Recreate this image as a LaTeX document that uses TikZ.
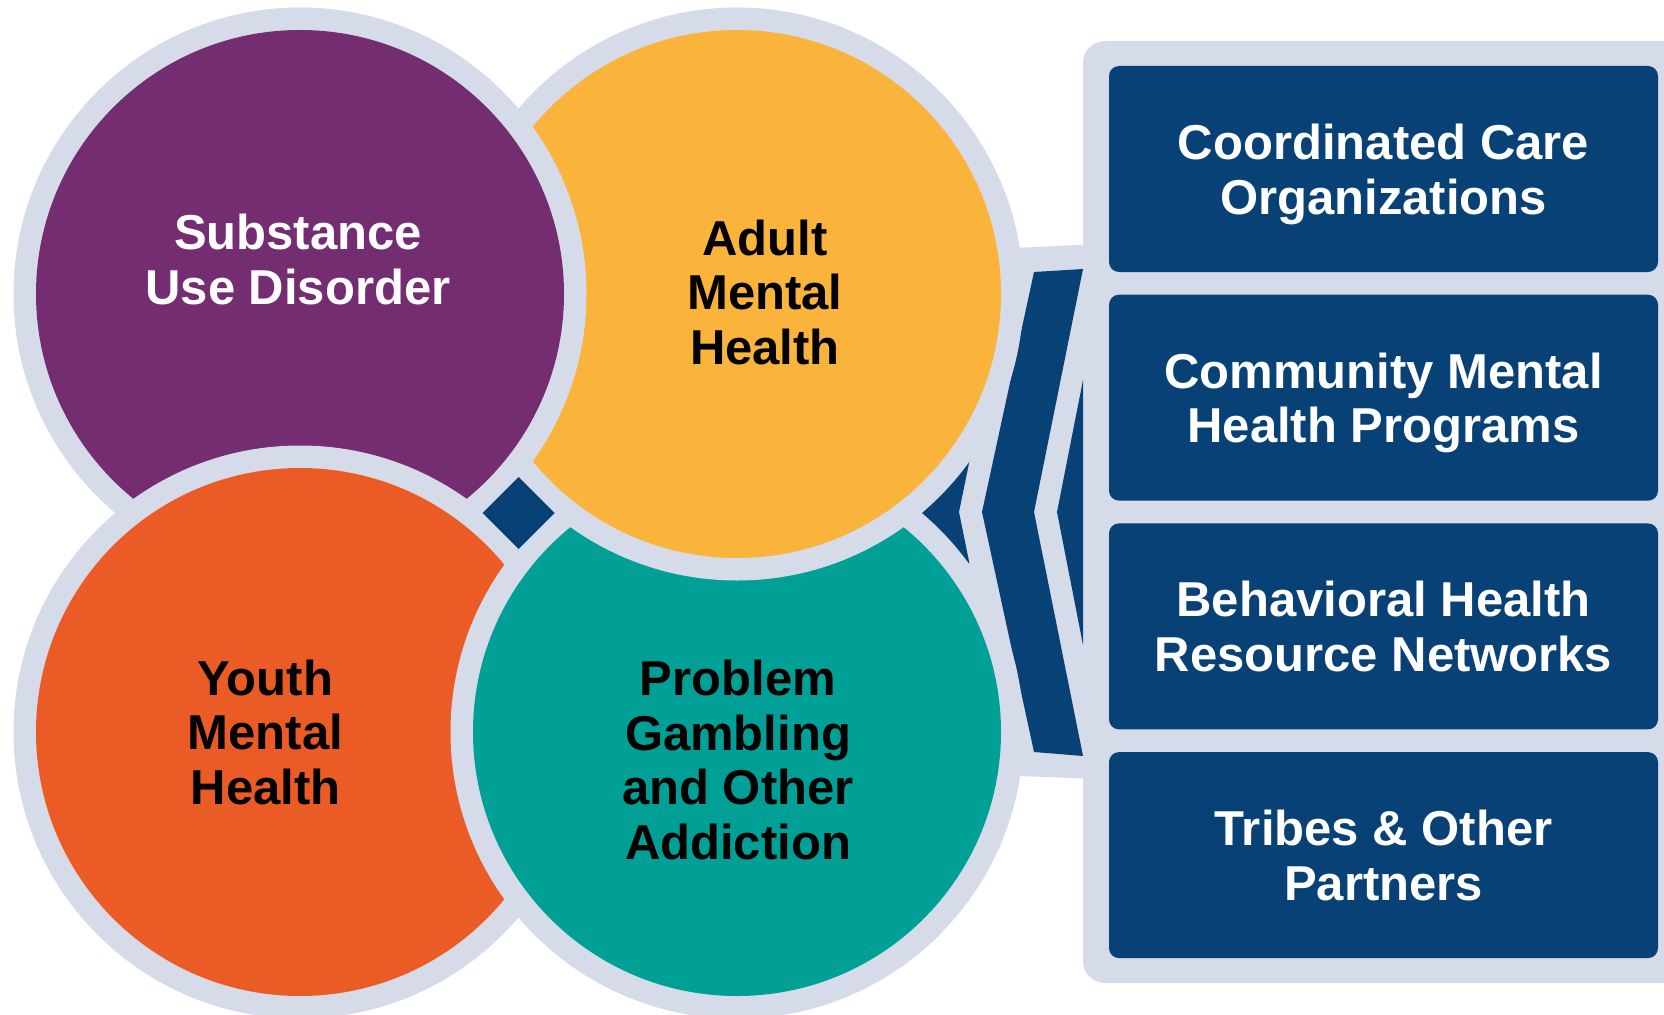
\documentclass[tikz,border=0pt]{standalone}
\usepackage{fontspec}
\setmainfont{Liberation Sans}

\definecolor{ringgray}{RGB}{214,219,233}
\definecolor{navy}{RGB}{8,65,117}
\definecolor{sudpurple}{RGB}{116,45,112}
\definecolor{amhyellow}{RGB}{250,180,60}
\definecolor{ymhorange}{RGB}{235,91,37}
\definecolor{pgteal}{RGB}{0,160,151}

\begin{document}
\begin{tikzpicture}[x=1pt,y=-1pt]
\tikzset{every node/.style={font=\bfseries\fontsize{49}{54.5}\selectfont, align=center, inner sep=0pt, text depth=0pt}}
\tikzset{partner/.style={fill=navy, text=white, rounded corners=10pt, minimum width=549pt, minimum height=206pt}}

\useasboundingbox (0,0) rectangle (1664,1014);
\clip (0,0) rectangle (1664,1014);
\fill[white] (0,0) rectangle (1664,1014);

% Panel behind the partner boxes
\fill[ringgray, rounded corners=22pt] (1083,41) rectangle (1720,983);
\fill[ringgray] (950,251) -- (1090,244.5) -- (1090,778.6) -- (950,773.5) -- cycle;

% Arrows pointing back to the circles
\fill[navy] (1034,272) -- (1083,269) -- (1034,512) -- (1083,756) -- (1034,752) -- (982,512) -- cycle;
\fill[navy] (1083,380) -- (1057,512) -- (1083,645) -- cycle;
\fill[navy] (969.3,461.7) -- (959,512) -- (969.3,562.7) -- (900,600) -- (850,512) -- (900,424) -- cycle;

% Circles, teal first
\foreach \col/\cx/\cy in {pgteal/737/732, amhyellow/737/294, sudpurple/300/294, ymhorange/300/732}{
  \fill[ringgray] (\cx,\cy) circle[radius=286.5];
  \fill[\col] (\cx,\cy) circle[radius=264];
}

% Teal again, only where it sits on the orange one
\begin{scope}
\clip (200,194.5) -- (1400,1394.5) -- (200,1394.5) -- cycle;
\fill[ringgray, even odd rule] (737,732) circle[radius=286.5] (737,732) circle[radius=262];
\fill[pgteal] (737,732) circle[radius=264];
\end{scope}

% Diamond in the middle
\fill[navy] (518.5,477) -- (554.5,513) -- (518.5,549) -- (482.5,513) -- cycle;

% Nodes for the circles
\node[text=white] at (298,259) (sud) {Substance\\Use Disorder};
\node at (765,292) (amh) {Adult\\Mental\\Health};
\node at (265.5,732) (ymh) {Youth\\Mental\\Health};
\node at (738,759.5) (pga) {Problem\\Gambling\\and Other\\Addiction};

% Nodes for the partners
\node[partner] at (1383.5,169) (cco) {Coordinated Care\\Organizations};
\node[partner] at (1383.5,397.7) (cmhp) {Community Mental\\Health Programs};
\node[partner] at (1383.5,626.4) (bhrn) {Behavioral Health\\Resource Networks};
\node[partner] at (1383.5,855.1) (tribes) {Tribes \& Other\\Partners};
\end{tikzpicture}
\end{document}
